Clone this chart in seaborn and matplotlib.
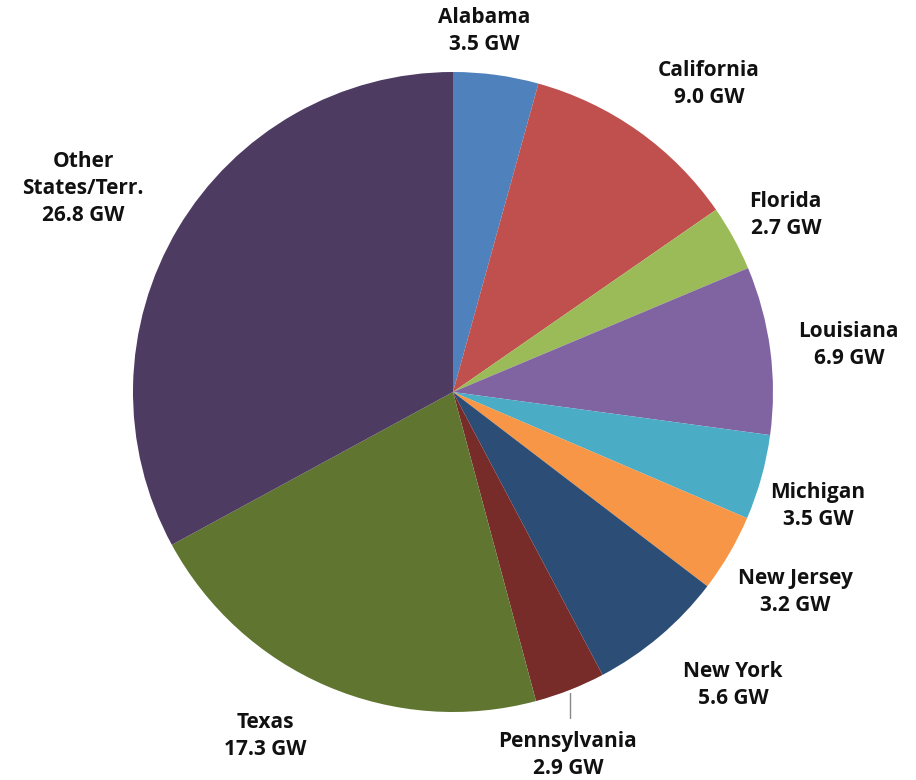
import numpy as np
import matplotlib.pyplot as plt
import seaborn as sns

sns.set_theme(style="white")
plt.rcParams['font.family'] = ['Open Sans', 'DejaVu Sans']

# Installed capacity by state (GW)
states = ['Alabama', 'California', 'Florida', 'Louisiana', 'Michigan',
          'New Jersey', 'New York', 'Pennsylvania', 'Texas', 'Other\nStates/Terr.']
capacity = [3.5, 9.0, 2.7, 6.9, 3.5, 3.2, 5.6, 2.9, 17.3, 26.8]
colors = ['#4F81BD', '#C0504D', '#9BBB59', '#8064A2', '#4BACC6',
          '#F79646', '#2C4D75', '#772C2A', '#5F7530', '#4D3B62']

# label centres, in pie radii from the centre
label_xy = [(0.097, 1.128), (0.80, 0.962), (1.04, 0.553), (1.237, 0.147),
            (1.14, -0.356), (1.069, -0.625), (0.875, -0.916), (0.359, -1.134),
            (-0.587, -1.075), (-1.156, 0.637)]

fig = plt.figure(figsize=(9.16, 7.80), dpi=100)
ax = fig.add_axes([0, 0, 1, 1])

wedges, _ = ax.pie(capacity, colors=colors, startangle=90, counterclock=False,
                   radius=1.0, wedgeprops=dict(linewidth=0))

for name, val, (x, y) in zip(states, capacity, label_xy):
    ax.text(x, y, f"{name}\n{val:.1f} GW", ha='center', va='center',
            fontsize=15, fontweight='bold', color='#111111', linespacing=1.38)

# leader line for Pennsylvania
ax.plot([0.366, 0.366], [-0.94, -1.02], color='#888888', lw=1)

ax.set_xlim(-453 / 320, (916 - 453) / 320)
ax.set_ylim(-(780 - 392) / 320, 392 / 320)
ax.set_aspect('auto')
ax.axis('off')

fig.savefig('out.png', dpi=100, facecolor='white')
